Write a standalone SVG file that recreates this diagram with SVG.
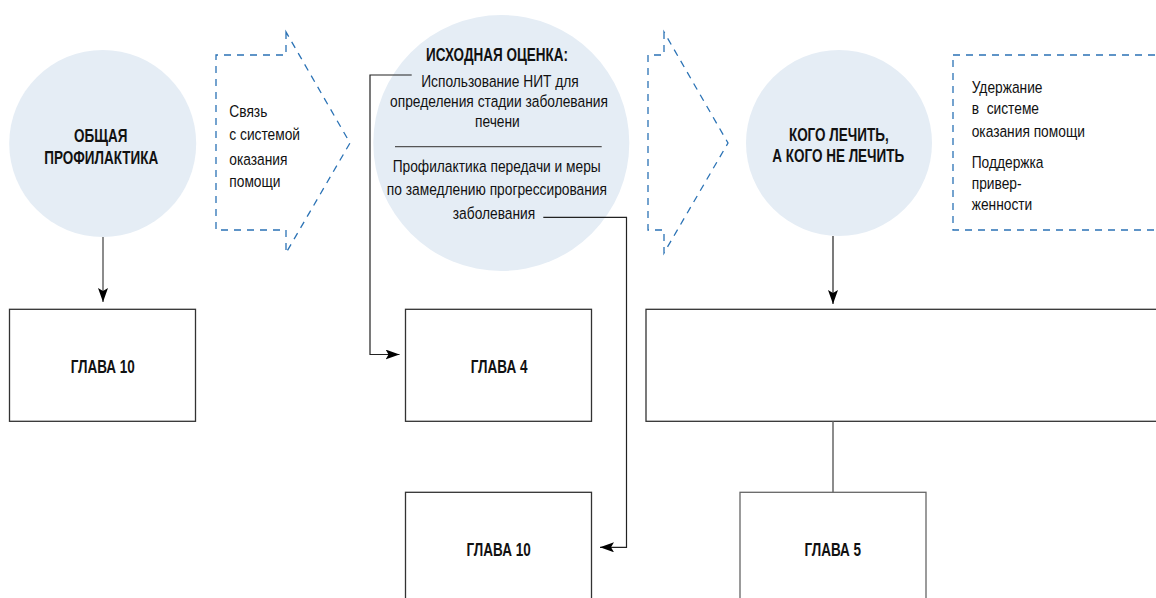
<svg xmlns="http://www.w3.org/2000/svg" width="1156" height="598" viewBox="0 0 1156 598">
<defs>
<style>
.circ{fill:#e5edf5;stroke:none}
.box{fill:#fff;stroke:#333;stroke-width:1.3}
.dash{fill:none;stroke:#2a72b5;stroke-width:1.3;stroke-dasharray:7 6}
.t{font-family:"Liberation Sans",Arial,sans-serif;font-size:17px;fill:#111}
.b{font-family:"Liberation Sans",Arial,sans-serif;font-size:18.5px;font-weight:bold;fill:#111}
.m{text-anchor:middle}
.ln{fill:none;stroke:#222;stroke-width:1.2}
.gl{fill:none;stroke:#666;stroke-width:1.5}
</style>
<marker id="ah" viewBox="0 0 14 10" refX="14" refY="5" markerWidth="14" markerHeight="10" markerUnits="userSpaceOnUse" orient="auto">
<path d="M0,0 L14,5 L0,10 L3,5 z" fill="#000"/>
</marker>
</defs>
<rect width="1156" height="598" fill="#fff"/>

<g id="node-general">
<circle class="circ" cx="102.7" cy="143.5" r="93.5"/>
<text class="b m" transform="translate(100.7 141.7) scale(0.73 1)">ОБЩАЯ</text>
<text class="b m" transform="translate(101.3 164) scale(0.73 1)">ПРОФИЛАКТИКА</text>
</g>

<g id="node-link">
<path class="dash" d="M286,32 V55 H216 V230 H286 V253 L350,143 Z"/>
<text class="t" transform="translate(229.3 116.7) scale(0.81 1)">Связь</text>
<text class="t" transform="translate(229.3 140) scale(0.81 1)">с системой</text>
<text class="t" transform="translate(229.3 165) scale(0.81 1)">оказания</text>
<text class="t" transform="translate(229.3 187.3) scale(0.81 1)">помощи</text>
</g>

<g id="node-assessment">
<circle class="circ" cx="501.3" cy="143" r="128"/>
<text class="b m" transform="translate(497 60.7) scale(0.73 1)">ИСХОДНАЯ ОЦЕНКА:</text>
<text class="t m" transform="translate(500 86.7) scale(0.81 1)">Использование НИТ для</text>
<text class="t m" transform="translate(499 106.7) scale(0.81 1)">определения стадии заболевания</text>
<text class="t m" transform="translate(497.4 127) scale(0.81 1)">печени</text>
<line x1="395" y1="146.7" x2="601.7" y2="146.7" stroke="#555" stroke-width="1.3"/>
<text class="t m" transform="translate(496.7 171.7) scale(0.81 1)">Профилактика передачи и меры</text>
<text class="t m" transform="translate(496.9 195) scale(0.81 1)">по замедлению прогрессирования</text>
<text class="t m" transform="translate(494 219) scale(0.81 1)">заболевания</text>
</g>

<g id="node-arrow2">
<path class="dash" d="M664,32 V55 H648 V230 H664 V253 L728,143 Z"/>
</g>

<g id="node-whom">
<circle class="circ" cx="839" cy="143" r="93"/>
<text class="b m" transform="translate(838.8 140.7) scale(0.73 1)">КОГО ЛЕЧИТЬ,</text>
<text class="b m" transform="translate(838.2 162.3) scale(0.73 1)">А КОГО НЕ ЛЕЧИТЬ</text>
</g>

<g id="node-retention">
<rect class="dash" x="953" y="55" width="260" height="175"/>
<text class="t" transform="translate(971.7 92.7) scale(0.81 1)">Удержание</text>
<text class="t" transform="translate(971.7 114.3) scale(0.81 1)" xml:space="preserve">в  системе</text>
<text class="t" transform="translate(971.7 136.7) scale(0.81 1)">оказания помощи</text>
<text class="t" transform="translate(971.7 167.7) scale(0.81 1)">Поддержка</text>
<text class="t" transform="translate(971.7 189.3) scale(0.81 1)">привер-</text>
<text class="t" transform="translate(971.7 210) scale(0.81 1)">женности</text>
</g>

<g id="node-ch10a">
<rect class="box" x="9.5" y="309.3" width="186" height="112"/>
<text class="b m" transform="translate(102.7 372.7) scale(0.73 1)">ГЛАВА 10</text>
</g>

<g id="node-ch4">
<rect class="box" x="405.5" y="309.3" width="186" height="112"/>
<text class="b m" transform="translate(499.1 373.3) scale(0.73 1)">ГЛАВА 4</text>
</g>

<g id="node-ch10b">
<rect class="box" x="405.5" y="492.3" width="186" height="120"/>
<text class="b m" transform="translate(498.6 555.7) scale(0.73 1)">ГЛАВА 10</text>
</g>

<g id="node-wide">
<rect class="box" x="646" y="309.3" width="530" height="112"/>
</g>

<g id="node-ch5">
<rect class="box" x="740" y="492.3" width="186" height="120" style="stroke:#666"/>
<text class="b m" transform="translate(832.7 555.7) scale(0.73 1)">ГЛАВА 5</text>
</g>

<g id="connectors">
<line class="gl" x1="103" y1="237" x2="103" y2="302" marker-end="url(#ah)"/>
<line class="ln" x1="833" y1="236" x2="833" y2="304" marker-end="url(#ah)"/>
<polyline class="ln" points="411.7,75 370,75 370,354.5 399.5,354.5" marker-end="url(#ah)"/>
<polyline class="ln" points="543.3,217.3 626.5,217.3 626.5,547.3 600,547.3" marker-end="url(#ah)"/>
<line class="gl" x1="833" y1="421.3" x2="833" y2="492.3"/>
</g>
</svg>
